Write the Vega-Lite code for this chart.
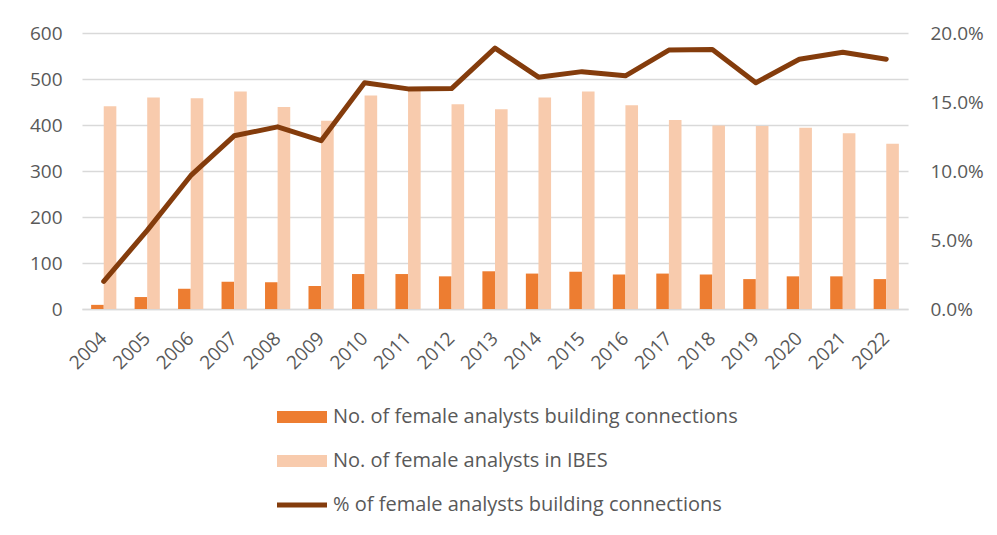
{
  "$schema": "https://vega.github.io/schema/vega-lite/v6.json",
  "width": 826,
  "height": 276,
  "autosize": "none",
  "padding": {"left": 82, "top": 33, "right": 89, "bottom": 226},
  "background": "white",
  "config": {
    "view": {"stroke": null},
    "font": "Open Sans",
    "axis": {"labelFont": "Open Sans", "labelColor": "#595959", "labelFontSize": 19, "ticks": false, "title": null, "labelOverlap": false},
    "legend": {"labelFont": "Open Sans", "labelColor": "#595959", "labelFontSize": 20}
  },
  "data": {
    "values": [
      {"year": "2004", "series": "No. of female analysts building connections", "value": 9},
      {"year": "2005", "series": "No. of female analysts building connections", "value": 26},
      {"year": "2006", "series": "No. of female analysts building connections", "value": 44},
      {"year": "2007", "series": "No. of female analysts building connections", "value": 59},
      {"year": "2008", "series": "No. of female analysts building connections", "value": 58},
      {"year": "2009", "series": "No. of female analysts building connections", "value": 50},
      {"year": "2010", "series": "No. of female analysts building connections", "value": 76},
      {"year": "2011", "series": "No. of female analysts building connections", "value": 76},
      {"year": "2012", "series": "No. of female analysts building connections", "value": 71},
      {"year": "2013", "series": "No. of female analysts building connections", "value": 82},
      {"year": "2014", "series": "No. of female analysts building connections", "value": 77},
      {"year": "2015", "series": "No. of female analysts building connections", "value": 81},
      {"year": "2016", "series": "No. of female analysts building connections", "value": 75},
      {"year": "2017", "series": "No. of female analysts building connections", "value": 77},
      {"year": "2018", "series": "No. of female analysts building connections", "value": 75},
      {"year": "2019", "series": "No. of female analysts building connections", "value": 65},
      {"year": "2020", "series": "No. of female analysts building connections", "value": 71},
      {"year": "2021", "series": "No. of female analysts building connections", "value": 71},
      {"year": "2022", "series": "No. of female analysts building connections", "value": 65},
      {"year": "2004", "series": "No. of female analysts in IBES", "value": 441},
      {"year": "2005", "series": "No. of female analysts in IBES", "value": 460},
      {"year": "2006", "series": "No. of female analysts in IBES", "value": 458},
      {"year": "2007", "series": "No. of female analysts in IBES", "value": 473},
      {"year": "2008", "series": "No. of female analysts in IBES", "value": 439},
      {"year": "2009", "series": "No. of female analysts in IBES", "value": 409},
      {"year": "2010", "series": "No. of female analysts in IBES", "value": 464},
      {"year": "2011", "series": "No. of female analysts in IBES", "value": 476},
      {"year": "2012", "series": "No. of female analysts in IBES", "value": 445},
      {"year": "2013", "series": "No. of female analysts in IBES", "value": 434},
      {"year": "2014", "series": "No. of female analysts in IBES", "value": 460},
      {"year": "2015", "series": "No. of female analysts in IBES", "value": 473},
      {"year": "2016", "series": "No. of female analysts in IBES", "value": 443},
      {"year": "2017", "series": "No. of female analysts in IBES", "value": 411},
      {"year": "2018", "series": "No. of female analysts in IBES", "value": 399},
      {"year": "2019", "series": "No. of female analysts in IBES", "value": 398},
      {"year": "2020", "series": "No. of female analysts in IBES", "value": 394},
      {"year": "2021", "series": "No. of female analysts in IBES", "value": 382},
      {"year": "2022", "series": "No. of female analysts in IBES", "value": 359},
      {"year": "2004", "series": "% of female analysts building connections", "value": 0.020},
      {"year": "2005", "series": "% of female analysts building connections", "value": 0.057},
      {"year": "2006", "series": "% of female analysts building connections", "value": 0.0966},
      {"year": "2007", "series": "% of female analysts building connections", "value": 0.1255},
      {"year": "2008", "series": "% of female analysts building connections", "value": 0.132},
      {"year": "2009", "series": "% of female analysts building connections", "value": 0.122},
      {"year": "2010", "series": "% of female analysts building connections", "value": 0.164},
      {"year": "2011", "series": "% of female analysts building connections", "value": 0.1595},
      {"year": "2012", "series": "% of female analysts building connections", "value": 0.1597},
      {"year": "2013", "series": "% of female analysts building connections", "value": 0.189},
      {"year": "2014", "series": "% of female analysts building connections", "value": 0.168},
      {"year": "2015", "series": "% of female analysts building connections", "value": 0.172},
      {"year": "2016", "series": "% of female analysts building connections", "value": 0.169},
      {"year": "2017", "series": "% of female analysts building connections", "value": 0.1876},
      {"year": "2018", "series": "% of female analysts building connections", "value": 0.188},
      {"year": "2019", "series": "% of female analysts building connections", "value": 0.164},
      {"year": "2020", "series": "% of female analysts building connections", "value": 0.181},
      {"year": "2021", "series": "% of female analysts building connections", "value": 0.186},
      {"year": "2022", "series": "% of female analysts building connections", "value": 0.181}
    ]
  },
  "encoding": {
    "x": {
      "field": "year", "type": "nominal",
      "scale": {"paddingInner": 0.42, "paddingOuter": 0.21},
      "axis": {"labelAngle": -45, "labelAlign": "right", "labelBaseline": "middle", "labelPadding": 26, "labelFontSize": 19, "domainColor": "#D9D9D9", "domainWidth": 1.5, "grid": false}
    },
    "color": {
      "field": "series", "type": "nominal",
      "scale": {
        "domain": ["No. of female analysts building connections", "No. of female analysts in IBES", "% of female analysts building connections"],
        "range": ["#ED7D31", "#F8CBAD", "#843C0C"]
      },
      "legend": {
        "title": null,
        "orient": "none",
        "legendX": 195,
        "legendY": 359,
        "direction": "vertical",
        "symbolSize": 2500,
        "symbolType": "M-1,-0.24h2v0.48h-2Z",
        "symbolStrokeWidth": 0,
        "labelOffset": 6,
        "rowPadding": 9,
        "labelLimit": 600,
        "encode": {
          "symbols": {
            "update": {
              "shape": {"signal": "datum.value === '% of female analysts building connections' ? 'M-1,-0.1h2v0.2h-2Z' : 'M-1,-0.24h2v0.48h-2Z'"},
              "strokeWidth": {"value": 0}
            }
          }
        }
      }
    }
  },
  "layer": [
    {
      "transform": [{"filter": "datum.series !== '% of female analysts building connections'"}],
      "mark": {"type": "bar"},
      "encoding": {
        "xOffset": {"field": "series", "type": "nominal", "sort": ["No. of female analysts building connections", "No. of female analysts in IBES"], "scale": {"paddingInner": 0, "paddingOuter": 0}},
        "y": {
          "field": "value", "type": "quantitative",
          "scale": {"domain": [0, 600]},
          "axis": {"values": [0, 100, 200, 300, 400, 500, 600], "domain": false, "gridColor": "#D9D9D9", "gridWidth": 1.5, "labelPadding": 20}
        }
      }
    },
    {
      "transform": [{"filter": "datum.series === '% of female analysts building connections'"}],
      "mark": {"type": "line", "strokeWidth": 5, "strokeJoin": "round", "strokeCap": "round"},
      "encoding": {
        "y": {
          "field": "value", "type": "quantitative",
          "scale": {"domain": [0, 0.2]},
          "axis": {"orient": "right", "values": [0, 0.05, 0.1, 0.15, 0.2], "format": ".1%", "domain": false, "grid": false, "labelPadding": 22}
        }
      }
    }
  ],
  "resolve": {"scale": {"y": "independent"}}
}
